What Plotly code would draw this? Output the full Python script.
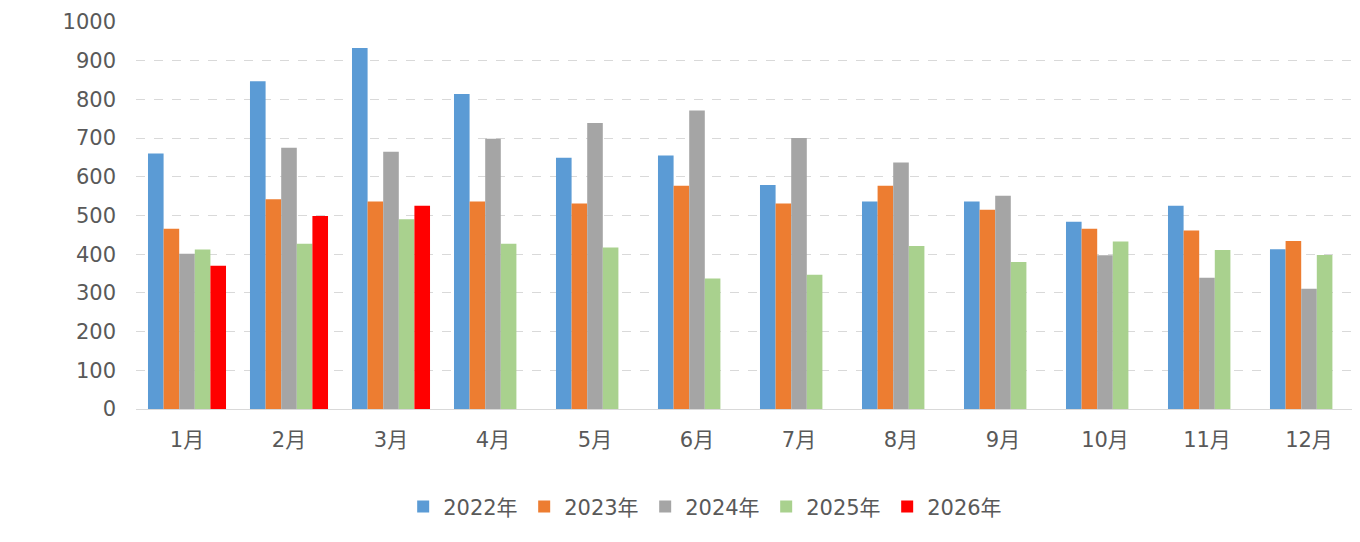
import plotly.graph_objects as go

months = ["1月", "2月", "3月", "4月", "5月", "6月", "7月", "8月", "9月", "10月", "11月", "12月"]
y2022 = [660, 847, 933, 814, 649, 655, 579, 536, 536, 484, 525, 413]
y2023 = [466, 542, 536, 536, 531, 577, 531, 577, 515, 466, 461, 434]
y2024 = [401, 675, 665, 698, 739, 771, 700, 637, 551, 397, 339, 311]
y2025 = [412, 427, 490, 427, 417, 337, 347, 421, 380, 433, 411, 398]
y2026 = [370, 499, 525]
series_names = ["2022年", "2023年", "2024年", "2025年", "2026年"]
colors = ["#5B9BD5", "#ED7D31", "#A5A5A5", "#A9D18E", "#FF0000"]
yticks = [0, 100, 200, 300, 400, 500, 600, 700, 800, 900, 1000]

data = [y2022, y2023, y2024, y2025, y2026]

fig = go.Figure()
for name, vals, col in zip(series_names, data, colors):
    fig.add_trace(go.Bar(x=months[:len(vals)], y=vals, name=name, marker_color=col,
                         marker_line_width=0))

tickfont = dict(family="DejaVu Sans, Noto Sans CJK SC", size=21, color="#595959")
legfont = dict(family="DejaVu Sans, Noto Sans CJK SC", size=21, color="#595959")
fig.update_layout(
    width=1360, height=542,
    barmode="group", bargap=0.235, bargroupgap=0,
    plot_bgcolor="white", paper_bgcolor="white",
    margin=dict(l=128, r=8, t=14, b=141, autoexpand=False),
    font=legfont,
    xaxis=dict(categoryorder="array", categoryarray=months, showline=True,
               linecolor="#D9D9D9", linewidth=1, ticks="", tickfont=tickfont,
               range=[-0.5, 11.5], automargin=False, ticklabelstandoff=12),
    yaxis=dict(range=[0, 1000], tickvals=yticks, showgrid=True, gridcolor="#D9D9D9",
               griddash="dash", gridwidth=1, zeroline=False, ticks="",
               tickfont=tickfont, ticklabelstandoff=19, automargin=False),
    legend=dict(orientation="h", xref="container", yref="container",
                x=0.513, xanchor="center", y=0.0798, yanchor="middle",
                font=legfont, entrywidth=76, entrywidthmode="pixels",
                itemclick=False),
    showlegend=True,
)

fig.write_html("out.html")
